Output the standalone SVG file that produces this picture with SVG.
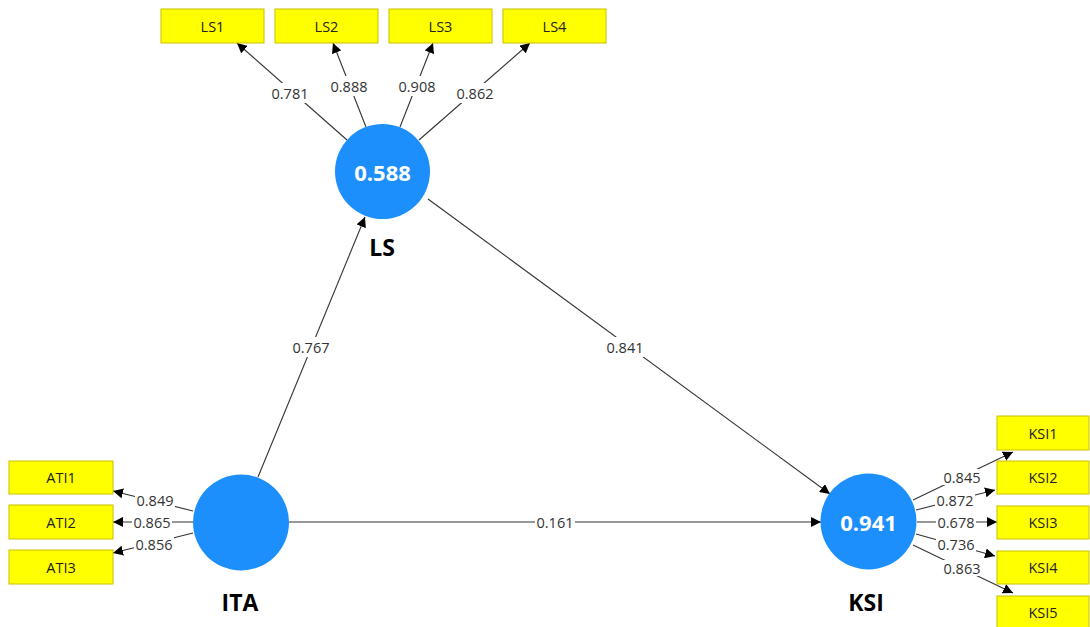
<svg xmlns="http://www.w3.org/2000/svg" width="1090" height="627" viewBox="0 0 1090 627">
<defs>
<marker id="ah" viewBox="0 0 10 10" refX="10" refY="5" markerWidth="10" markerHeight="10" markerUnits="userSpaceOnUse" orient="auto">
<path d="M0,0 L10,5 L0,10 z" fill="#000"/>
</marker>
<style>
.box{fill:#FFFF00;stroke:#C8C000;stroke-width:1}
.bt{font-family:"Open Sans","Noto Sans",sans-serif;font-size:14.5px;fill:#222;text-anchor:middle;dominant-baseline:central}
.lv{fill:#1C8FFC}
.vt{font-family:"Open Sans","Noto Sans",sans-serif;font-size:22px;font-weight:bold;fill:#fff;text-anchor:middle;dominant-baseline:central}
.nm{font-family:"Open Sans","Noto Sans",sans-serif;font-size:23px;font-weight:bold;fill:#000;text-anchor:middle;dominant-baseline:central}
.ln{stroke:#333;stroke-width:1.1;fill:none;marker-end:url(#ah)}
.lb{font-family:"Open Sans","Noto Sans",sans-serif;font-size:14.5px;fill:#333;text-anchor:middle;dominant-baseline:central}
.bg{fill:#fff}
</style>
</defs>
<rect width="1090" height="627" fill="#fff"/>
<g id="connectors">
<line class="ln" x1="347" y1="140" x2="237" y2="43"/>
<line class="ln" x1="366" y1="127" x2="333" y2="43"/>
<line class="ln" x1="400" y1="127" x2="433" y2="43"/>
<line class="ln" x1="419" y1="140" x2="530" y2="43"/>
<line class="ln" x1="258" y1="477" x2="365" y2="217"/>
<line class="ln" x1="428" y1="199" x2="830" y2="494"/>
<line class="ln" x1="289" y1="522" x2="821" y2="522"/>
<line class="ln" x1="193" y1="511" x2="113" y2="491"/>
<line class="ln" x1="193" y1="522" x2="113" y2="522"/>
<line class="ln" x1="193" y1="533" x2="113" y2="553"/>
<line class="ln" x1="913" y1="500" x2="1013" y2="452"/>
<line class="ln" x1="916" y1="510" x2="995" y2="490"/>
<line class="ln" x1="917" y1="522" x2="997" y2="522"/>
<line class="ln" x1="916" y1="534" x2="995" y2="556"/>
<line class="ln" x1="913" y1="545" x2="1013" y2="593"/>
<rect class="bg" x="270" y="83" width="40" height="20"/><text class="lb" x="290" y="93">0.781</text>
<rect class="bg" x="329" y="76" width="40" height="20"/><text class="lb" x="349" y="86">0.888</text>
<rect class="bg" x="397" y="76" width="40" height="20"/><text class="lb" x="417" y="86">0.908</text>
<rect class="bg" x="455" y="83" width="40" height="20"/><text class="lb" x="475" y="93">0.862</text>
<rect class="bg" x="291" y="337" width="40" height="20"/><text class="lb" x="311" y="347">0.767</text>
<rect class="bg" x="605" y="337" width="40" height="20"/><text class="lb" x="625" y="347">0.841</text>
<rect class="bg" x="535" y="512" width="40" height="20"/><text class="lb" x="555" y="522">0.161</text>
<rect class="bg" x="135" y="492" width="40" height="16"/><text class="lb" x="155" y="500">0.849</text>
<rect class="bg" x="132" y="514" width="40" height="16"/><text class="lb" x="152" y="522">0.865</text>
<rect class="bg" x="134" y="536" width="40" height="16"/><text class="lb" x="154" y="544">0.856</text>
<rect class="bg" x="942" y="469" width="40" height="16"/><text class="lb" x="962" y="477">0.845</text>
<rect class="bg" x="935" y="492" width="40" height="16"/><text class="lb" x="955" y="500">0.872</text>
<rect class="bg" x="936" y="514" width="40" height="16"/><text class="lb" x="956" y="522">0.678</text>
<rect class="bg" x="936" y="536" width="40" height="16"/><text class="lb" x="956" y="544">0.736</text>
<rect class="bg" x="942" y="560" width="40" height="16"/><text class="lb" x="962" y="568">0.863</text>
</g>
<g id="LS1"><rect class="box" x="161" y="9" width="103" height="34"/><text class="bt" x="212.5" y="26">LS1</text></g>
<g id="LS2"><rect class="box" x="275" y="9" width="103" height="34"/><text class="bt" x="326.5" y="26">LS2</text></g>
<g id="LS3"><rect class="box" x="389" y="9" width="103" height="34"/><text class="bt" x="440.5" y="26">LS3</text></g>
<g id="LS4"><rect class="box" x="503" y="9" width="103" height="34"/><text class="bt" x="554.5" y="26">LS4</text></g>
<g id="ATI1"><rect class="box" x="9" y="461" width="104" height="33"/><text class="bt" x="61" y="477.5">ATI1</text></g>
<g id="ATI2"><rect class="box" x="9" y="505" width="104" height="34"/><text class="bt" x="61" y="522">ATI2</text></g>
<g id="ATI3"><rect class="box" x="9" y="550" width="104" height="34"/><text class="bt" x="61" y="567">ATI3</text></g>
<g id="KSI1"><rect class="box" x="997" y="416" width="92" height="34"/><text class="bt" x="1043" y="433">KSI1</text></g>
<g id="KSI2"><rect class="box" x="997" y="461" width="92" height="33"/><text class="bt" x="1043" y="477.5">KSI2</text></g>
<g id="KSI3"><rect class="box" x="997" y="506" width="92" height="33"/><text class="bt" x="1043" y="522.5">KSI3</text></g>
<g id="KSI4"><rect class="box" x="997" y="551" width="92" height="33"/><text class="bt" x="1043" y="567.5">KSI4</text></g>
<g id="KSI5"><rect class="box" x="997" y="596" width="92" height="34"/><text class="bt" x="1043" y="612">KSI5</text></g>
<g id="LS"><circle class="lv" cx="382.5" cy="171.5" r="47.5"/><text class="vt" x="382.5" y="171.5">0.588</text><text class="nm" x="382" y="247">LS</text></g>
<g id="ITA"><circle class="lv" cx="241" cy="522.5" r="48"/><text class="nm" x="240" y="602">ITA</text></g>
<g id="KSI"><circle class="lv" cx="868.5" cy="521.5" r="48"/><text class="vt" x="868.5" y="521.5">0.941</text><text class="nm" x="866" y="602">KSI</text></g>
</svg>
